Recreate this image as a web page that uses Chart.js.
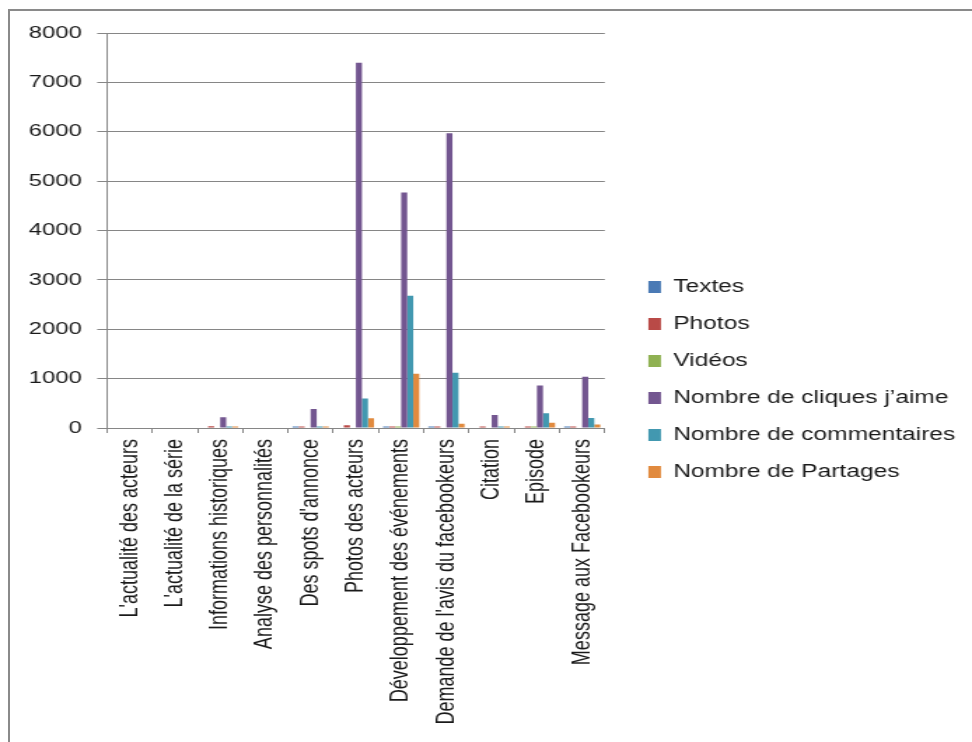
<!DOCTYPE html>
<html>
<head>
<meta charset="utf-8">
<script src="https://cdn.jsdelivr.net/npm/chart.js@4"></script>
<style>
  html, body { margin: 0; padding: 0; background: #fff; }
  #wrap { position: relative; width: 972px; height: 742px; overflow: hidden; }
  #frame { position: absolute; left: 8px; top: 9px; width: 964px; height: 733px;
           border-top: 2px solid #8a8a8a; border-left: 2px solid #8a8a8a; box-sizing: border-box; }
  #chart { position: absolute; left: 0; top: 0; transform-origin: 0 0; transform: scaleX(1.4006); }
</style>
</head>
<body>
<div id="wrap">
  <div id="frame"></div>
  <canvas id="chart" width="694" height="742"></canvas>
</div>
<script>
const categories = [
  "L'actualité des acteurs",
  "L'actualité de la série",
  "Informations historiques",
  "Analyse des personnalités",
  "Des spots d'annonce",
  "Photos des acteurs",
  "Développement des événements",
  "Demande de l'avis du facebookeurs",
  "Citation",
  "Episode",
  "Message aux Facebookeurs"
];

const textes       = [0, 0, 0,   0, 30,  0,    30,   30,   0,   0,   30];
const photos       = [0, 0, 35,  0, 30,  55,   30,   30,   30,  30,  30];
const videos       = [0, 0, 0,   0, 0,   0,    30,   0,    0,   30,  0];
const cliques      = [0, 0, 220, 0, 385, 7400, 4770, 5970, 265, 860, 1040];
const commentaires = [0, 0, 30,  0, 30,  600,  2680, 1120, 30,  300, 205];
const partages     = [0, 0, 30,  0, 30,  200,  1100, 85,   30,  105, 70];

const yTicks = [0, 1000, 2000, 3000, 4000, 5000, 6000, 7000, 8000];

const ctx = document.getElementById('chart');
const axisGray = '#868686';

new Chart(ctx, {
  type: 'bar',
  data: {
    labels: categories,
    datasets: [
      { label: 'Textes', data: textes, backgroundColor: '#4a7ab5' },
      { label: 'Photos', data: photos, backgroundColor: '#b94a47' },
      { label: 'Vidéos', data: videos, backgroundColor: '#8fb152' },
      { label: 'Nombre de cliques j’aime', data: cliques, backgroundColor: '#735690' },
      { label: 'Nombre de commentaires', data: commentaires, backgroundColor: '#4298b0' },
      { label: 'Nombre de Partages', data: partages, backgroundColor: '#e18a3e' }
    ]
  },
  options: {
    responsive: false,
    animation: false,
    devicePixelRatio: 1,
    categoryPercentage: 0.8,
    barPercentage: 1.0,
    layout: { padding: { top: 33, left: 0, right: 2, bottom: 16 } },
    plugins: {
      tooltip: { enabled: false },
      legend: {
        position: 'right',
        maxWidth: 400,
        labels: {
          font: { family: 'Liberation Sans', size: 17.5 },
          color: '#1a1a1a',
          boxWidth: 9,
          boxHeight: 12,
          padding: 19.5
        }
      }
    },
    scales: {
      x: {
        grid: { display: true, drawOnChartArea: false, drawTicks: true, tickLength: 5, color: axisGray },
        border: { display: true, color: axisGray },
        ticks: {
          autoSkip: false,
          minRotation: 90,
          maxRotation: 90,
          padding: 6,
          color: '#1a1a1a',
          font: { family: 'Liberation Sans', size: 18 }
        },
        afterFit: s => { s.height = 298; }
      },
      y: {
        min: 0,
        max: 8000,
        afterBuildTicks: s => { s.ticks = yTicks.map(v => ({ value: v })); },
        grid: { color: axisGray, tickLength: 7 },
        border: { color: axisGray },
        ticks: {
          padding: 11,
          color: '#1a1a1a',
          font: { family: 'Liberation Sans', size: 17 },
          callback: v => String(v)
        },
        afterFit: s => { s.width = 76.4; }
      },
      gap: {
        type: 'linear',
        position: 'right',
        min: 0,
        max: 1,
        grid: { display: false },
        border: { display: false },
        ticks: { display: false },
        afterFit: s => { s.width = 11.6; }
      }
    }
  }
});
</script>
</body>
</html>
